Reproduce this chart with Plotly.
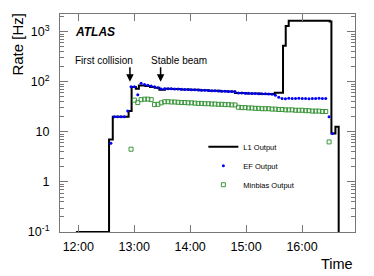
import pandas as pd
import plotly.graph_objects as go

BASE = pd.Timestamp("2010-03-30 12:00")

# L1 output (step line): breakpoints in minutes after 12:00 and rate [Hz]
l1_min = [-2.5, 33, 37, 54, 57.2, 61.8, 65, 72, 77, 82, 87, 93, 100, 110, 120, 130,
          140, 152, 160, 168, 180, 195, 210.7, 219.6, 222.5, 225.7, 269.7, 271.5,
          275.8, 279.3]
l1_rate = [0.1, 7, 20, 26, 79, 73, 84, 82, 79, 76, 69, 72.5, 72, 70.5, 69, 67.5,
           66.5, 65, 64, 59.5, 58.5, 57, 60.5, 525, 1300, 1650, 1600, 9.3,
           12.6, 0.1]

# Sample times (minutes after 12:00) for EF / Minbias points
sample_min = [35.0, 38.6, 42.2, 45.8, 49.4, 53.0, 56.6, 60.2, 63.8, 67.4, 71.0,
              74.6, 78.2, 81.8, 85.4, 89.0, 92.6, 96.2, 99.8, 103.4, 107.0, 110.6,
              114.2, 117.8, 121.4, 125.0, 128.6, 132.2, 135.8, 139.4, 143.0, 146.6,
              150.2, 153.8, 157.4, 161.0, 164.6, 168.2, 171.8, 175.4, 179.0, 182.6,
              186.2, 189.8, 193.4, 197.0, 200.6, 204.2, 207.8, 211.4, 215.0, 218.6,
              222.2, 225.8, 229.4, 233.0, 236.6, 240.2, 243.8, 247.4, 251.0, 254.6,
              258.2, 261.8, 265.4, 269.0, 272.6]

ef_rate = [5.9, 20, 20, 20, 20, 26, 80, 80, 55, 93, 88, 85, 82, 80, 76, 72, 73,
           73, 72.5, 72, 71.5, 71, 70.5, 70, 69.5, 69, 68.5, 68, 67.5, 67, 66.5,
           66, 65.5, 65, 64.5, 64, 64, 63.5, 60, 59.5, 59, 59, 58.5, 58.5, 58, 58,
           57.5, 57, 56.5, 54, 49, 46.5, 46, 47, 46.5, 46.5, 47, 46.5, 46.5, 46,
           46.5, 46.5, 47, 46.5, 46.5, 20, 9.3]

minbias_rate = [None, None, None, None, None, None, 4.5, 43, 38.5, 44, 45, 45,
                44, 35, 35.5, 38, 40, 40, 39.5, 39.5, 39, 38.5, 38.5, 38, 38,
                37.5, 37, 37, 36.5, 36.5, 36, 36, 35.5, 35.5, 35, 35, 34.5, 34.5,
                31, 30.5, 30.5, 30, 30, 29.5, 29.5, 29, 29, 29, 28.5, 28.5, 28, 28,
                27.5, 27.5, 27.5, 27, 27, 27, 26.5, 26.5, 26, 26, 26, 25.5, 25.5,
                6.3, None]

hour_ticks = ["12:00", "13:00", "14:00", "15:00", "16:00"]
y_tickvals = [0.1, 1, 10, 100, 1000]
y_ticktext = ["10<sup>-1</sup>", "1", "10", "10<sup>2</sup>", "10<sup>3</sup>"]
y_minor = [m * d for d in [0.1, 1, 10, 100, 1000] for m in range(2, 10)]

first_collision_min = 55.4
stable_beam_min = 88.3
arrow_tip_rate = 100


def t(mins):
    return [BASE + pd.Timedelta(minutes=m) for m in mins]


FONT = "Liberation Sans, Arial, sans-serif"
AX = "#777777"

fig = go.Figure()
fig.add_trace(go.Scatter(x=t(l1_min), y=l1_rate, mode="lines", line_shape="hv",
                         line=dict(color="black", width=2), name="L1 Output"))
fig.add_trace(go.Scatter(x=t(sample_min), y=ef_rate, mode="markers",
                         marker=dict(color="#0000ff", size=3, symbol="circle"),
                         name="EF Output"))
fig.add_trace(go.Scatter(x=t(sample_min), y=minbias_rate, mode="markers",
                         marker=dict(color="#3c963c", size=4,
                                     symbol="square-open", line=dict(width=1)),
                         name="Minbias Output"))

hour_vals = [BASE.normalize() + pd.Timedelta(hours=int(h[:2])) for h in hour_ticks]

fig.update_xaxes(
    type="date", automargin=False,
    range=[BASE + pd.Timedelta(minutes=-19.6), BASE + pd.Timedelta(minutes=296.8)],
    tickvals=hour_vals, ticktext=hour_ticks,
    ticks="inside", ticklen=7, tickcolor=AX, tickwidth=1,
    showline=True, linecolor=AX, linewidth=1, mirror="ticks",
    showgrid=False, zeroline=False, ticklabelstandoff=3,
    tickfont=dict(family=FONT, size=12.5, color="black"),
)
fig.update_yaxes(
    type="log", range=[-1, 3.354], automargin=False,
    tickvals=y_tickvals, ticktext=y_ticktext,
    ticks="inside", ticklen=8, tickcolor=AX, tickwidth=1,
    minor=dict(tickmode="array", tickvals=y_minor, ticks="inside", ticklen=4,
               tickcolor=AX, showgrid=False),
    showline=True, linecolor=AX, linewidth=1, mirror="ticks",
    showgrid=False, zeroline=False, ticklabelstandoff=7,
    tickfont=dict(family=FONT, size=12.5, color="black"),
)

ann = []
ann.append(dict(xref="paper", yref="paper", x=-0.144, y=0.862, text="Rate [Hz]",
                textangle=-90, showarrow=False, xanchor="center", yanchor="middle",
                font=dict(family=FONT, size=15, color="black")))
ann.append(dict(xref="paper", yref="paper", x=1.0, y=-0.148, text="Time",
                showarrow=False, xanchor="right", yanchor="middle",
                font=dict(family=FONT, size=14.5, color="black")))
ann.append(dict(xref="paper", yref="paper", x=0.043, y=0.919, text="<b><i>ATLAS</i></b>",
                showarrow=False, xanchor="left", yanchor="middle",
                font=dict(family=FONT, size=12, color="black")))
ann.append(dict(xref="paper", yref="paper", x=0.149, y=0.786, text="First collision",
                showarrow=False, xanchor="center", yanchor="middle",
                font=dict(family=FONT, size=10, color="black")))
ann.append(dict(xref="paper", yref="paper", x=0.403, y=0.786, text="Stable beam",
                showarrow=False, xanchor="center", yanchor="middle",
                font=dict(family=FONT, size=10, color="black")))
for m in [first_collision_min, stable_beam_min]:
    ann.append(dict(x=BASE + pd.Timedelta(minutes=m), y=2, xref="x", yref="y",
                    text="", showarrow=True, arrowhead=2, arrowsize=1,
                    arrowwidth=1.5, arrowcolor="black", ax=0, ay=-16, standoff=0))

fig.update_layout(
    width=374, height=276,
    margin=dict(l=60, r=18.7, t=14, b=44.3, autoexpand=False),
    paper_bgcolor="white", plot_bgcolor="white",
    showlegend=True,
    legend=dict(x=0.486, y=0.4576, xanchor="left", yanchor="top",
                bgcolor="rgba(0,0,0,0)", font=dict(family=FONT, size=7.5, color="black"),
                itemwidth=30, tracegroupgap=0),
    annotations=ann,
    font=dict(family=FONT),
)

fig.write_html("out.html", config={"displayModeBar": False},
               post_script="document.body.style.margin='0';document.body.style.padding='0';")
